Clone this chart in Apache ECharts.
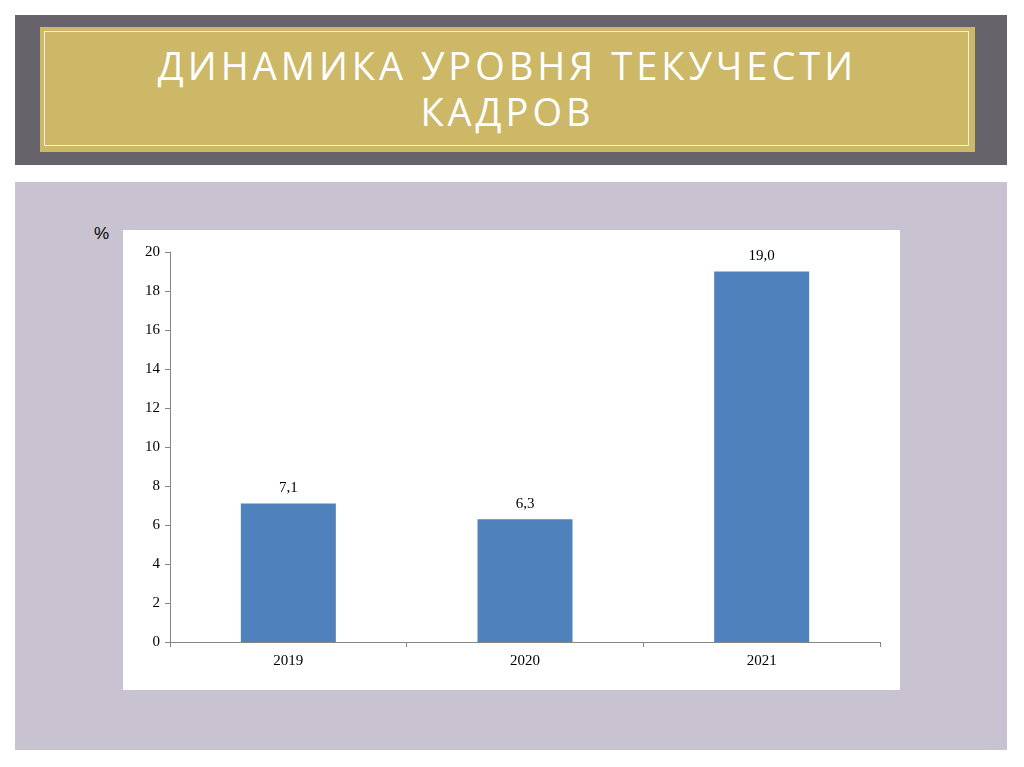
<!DOCTYPE html>
<html>
<head>
<meta charset="utf-8">
<script src="https://cdn.jsdelivr.net/npm/echarts@6/dist/echarts.min.js"></script>
<style>
body { margin: 0; width: 1024px; height: 767px; background: #fff; position: relative; overflow: hidden; }
.band { position: absolute; left: 15px; top: 15px; width: 992px; height: 150px; background: #67636b; }
.gold { position: absolute; left: 40px; top: 27px; width: 935px; height: 125px; background: #cdb867; }
.inner { position: absolute; left: 44px; top: 31px; width: 925px; height: 115px; border: 1px solid #f4eede; box-sizing: border-box; }
.title { position: absolute; left: 40px; top: 42px; width: 935px; text-align: center; color: #fff;
  font-family: "Open Sans", sans-serif; font-size: 38px; letter-spacing: 4px; line-height: 46px; }
.panel { position: absolute; left: 15px; top: 182px; width: 992px; height: 568px; background: #c9c3d1; }
.pct { position: absolute; left: 94px; top: 224px; font-family: "Liberation Sans", sans-serif; font-size: 17px; }
#container { position: absolute; left: 123px; top: 230px; width: 777px; height: 460px; background: #fff; }
</style>
</head>
<body>
<div class="band"></div>
<div class="gold"></div>
<div class="inner"></div>
<div class="title">ДИНАМИКА УРОВНЯ ТЕКУЧЕСТИ<br>КАДРОВ</div>
<div class="panel"></div>
<div class="pct">%</div>
<div id="container"></div>
<script>
var years = ['2019', '2020', '2021'];
var turnover = [7.1, 6.3, 19.0];

var myChart = echarts.init(document.getElementById('container'));
var font = '"Liberation Serif", "Times New Roman", serif';
var option = {
    animation: false,
    grid: { left: 47, top: 22, right: 20, bottom: 48 },
    xAxis: {
        type: 'category',
        data: years,
        axisLine: { lineStyle: { color: '#868686' } },
        axisTick: { show: true, alignWithLabel: false, length: 5, lineStyle: { color: '#868686' } },
        axisLabel: { color: '#000', fontFamily: font, fontSize: 15, margin: 12 }
    },
    yAxis: {
        type: 'value',
        min: 0, max: 20, interval: 2,
        splitLine: { show: false },
        axisLine: { show: true, lineStyle: { color: '#868686' } },
        axisTick: { show: true, length: 5, lineStyle: { color: '#868686' } },
        axisLabel: { color: '#000', fontFamily: font, fontSize: 15, margin: 10 }
    },
    series: [{
        type: 'bar',
        data: turnover,
        barWidth: 95,
        itemStyle: { color: '#4f81bd' },
        label: {
            show: true, position: 'top', distance: 8,
            color: '#000', fontFamily: font, fontSize: 15,
            formatter: function (p) { return p.value.toFixed(1).replace('.', ','); }
        }
    }]
};
myChart.setOption(option);
</script>
</body>
</html>
